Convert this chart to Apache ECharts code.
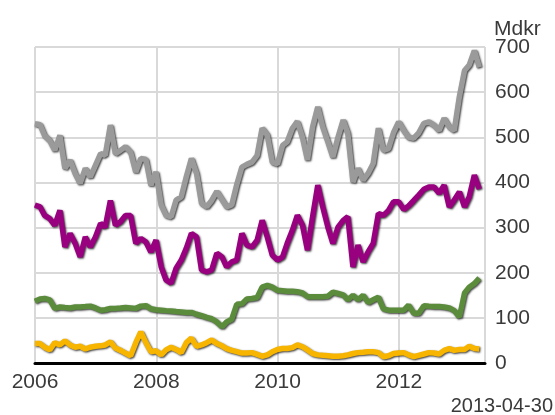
<!DOCTYPE html>
<html>
<head>
<meta charset="utf-8">
<script src="https://cdn.jsdelivr.net/npm/echarts@6/dist/echarts.min.js"></script>
<style>
html, body { margin: 0; padding: 0; background: #fff; }
#chart { width: 555px; height: 415px; }
</style>
</head>
<body>
<div id="chart"></div>
<script>
// month-end values, Dec 2005 .. Apr 2013 (Mdkr)
var startYear = 2006;
var yTicks = [0, 100, 200, 300, 400, 500, 600, 700];
var xTicks = [2006, 2008, 2010, 2012];

var grey = [530, 528, 504, 493, 471, 504, 431, 449, 420, 398,
	431, 412, 438, 464, 460, 527, 464, 471, 479, 467,
	423, 453, 451, 394, 423, 350, 327, 324, 361, 368,
	412, 453, 420, 354, 346, 360, 380, 362, 346, 350,
	395, 434, 440, 445, 460, 520, 505, 445, 441, 482,
	490, 520, 535, 500, 450, 523, 567, 523, 490, 456,
	500, 538, 509, 401, 431, 405, 420, 442, 520, 471,
	475, 510, 534, 515, 500, 498, 510, 531, 534, 527,
	515, 542, 523, 515, 590, 648, 660, 692, 655];

var purple = [350, 346, 327, 320, 305, 338, 257, 287, 265, 235,
	279, 257, 279, 309, 301, 360, 305, 313, 327, 327,
	265, 276, 268, 246, 272, 213, 184, 177, 210, 228,
	254, 287, 279, 206, 202, 206, 243, 235, 213, 224,
	228, 287, 261, 257, 272, 316, 279, 239, 228, 235,
	265, 294, 327, 305, 250, 324, 394, 346, 301, 265,
	301, 316, 324, 213, 261, 224, 246, 265, 331, 327,
	338, 357, 357, 340, 348, 360, 372, 385, 390, 390,
	376, 394, 346, 361, 379, 346, 368, 416, 385];

var green = [137, 142, 143, 140, 121, 124, 123, 122, 124, 124,
	125, 126, 122, 117, 118, 121, 121, 122, 123, 122,
	121, 126, 127, 120, 118, 117, 116, 115, 114, 113,
	112, 112, 108, 105, 101, 98, 91, 80, 91, 97,
	130, 131, 142, 143, 145, 168, 172, 168, 161, 160,
	159, 159, 158, 155, 147, 147, 147, 147, 148, 157,
	154, 151, 140, 150, 140, 150, 134, 140, 146, 120,
	117, 117, 117, 117, 128, 110, 110, 127, 126, 125,
	125, 124, 122, 116, 102, 155, 168, 176, 188];

var yellow = [43, 43, 35, 29, 45, 40, 49, 40, 35, 37,
	31, 35, 37, 38, 40, 47, 33, 28, 22, 16,
	45, 69, 45, 25, 27, 18, 29, 35, 30, 23,
	45, 55, 37, 40, 45, 51, 43, 38, 32, 28,
	25, 22, 22, 23, 19, 15, 18, 25, 30, 32,
	32, 34, 40, 36, 29, 21, 18, 17, 16, 15,
	15, 16, 18, 21, 23, 24, 25, 25, 23, 14,
	16, 21, 22, 23, 18, 14, 17, 20, 23, 22,
	20, 28, 32, 28, 30, 30, 37, 32, 31];

// month end as decimal year
function monthEnd(k) {
	var t0 = Date.UTC(startYear, 0, 1);
	var t = Date.UTC(startYear, k, 0);
	return startYear + (t - t0) / (365.25 * 86400000);
}

function pairs(arr) {
	return arr.map(function(v, k) {
		return [monthEnd(k), v];
	});
}

function line(name, color, arr) {
	return {
		name: name,
		type: 'line',
		showSymbol: false,
		data: pairs(arr),
		lineStyle: {
			color: color,
			width: 5.5,
			shadowColor: 'rgba(0,0,0,0.75)',
			shadowBlur: 2,
			shadowOffsetX: 1,
			shadowOffsetY: 1
		},
		itemStyle: { color: color }
	};
}

var font = '"Liberation Sans", Arial, sans-serif';
var chart = echarts.init(document.getElementById('chart'));

chart.setOption({
	animation: false,
	grid: { left: 35, right: 70, top: 47, bottom: 52 },
	xAxis: {
		type: 'value',
		min: 2006,
		max: 2013.42,
		interval: 2,
		axisLine: { show: true, onZero: false, lineStyle: { color: '#000', width: 3 } },
		axisTick: { show: false },
		splitLine: { show: true, lineStyle: { color: '#d9d9d9', width: 2 } },
		axisLabel: {
			color: '#3a3a3a', fontSize: 21, fontFamily: font, margin: 9,
			showMaxLabel: false,
			formatter: function(v) { return xTicks.indexOf(v) >= 0 ? String(v) : ''; }
		}
	},
	yAxis: {
		type: 'value',
		position: 'right',
		min: yTicks[0],
		max: yTicks[yTicks.length - 1],
		interval: 100,
		axisLine: { show: false },
		axisTick: { show: false },
		splitLine: { lineStyle: { color: '#d9d9d9', width: 2 } },
		axisLabel: { color: '#3a3a3a', fontSize: 21, fontFamily: font, margin: 10 }
	},
	graphic: [
		{ type: 'text', left: 494, top: 19, style: { text: 'Mdkr', fill: '#3a3a3a', font: '21px ' + font } },
		{ type: 'text', right: 2, top: 396, style: { text: '2013-04-30', fill: '#3a3a3a', font: '20px ' + font } }
	],
	series: [
		line('grey', '#9a9a9a', grey),
		line('purple', '#990080', purple),
		line('green', '#5b8c3c', green),
		line('yellow', '#f7b500', yellow)
	]
});
</script>
</body>
</html>
